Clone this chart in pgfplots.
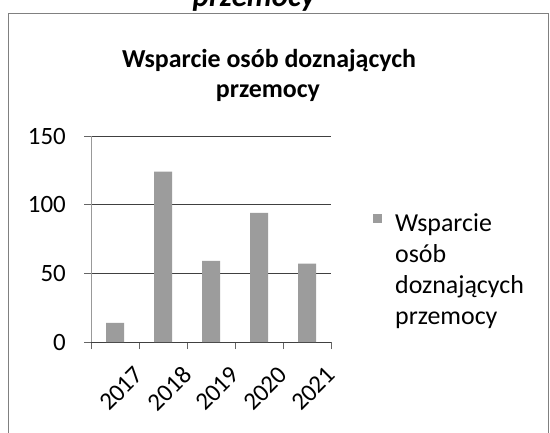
\documentclass[border=0pt]{standalone}
\usepackage{pgfplots}
\pgfplotsset{compat=1.18}
\usepackage{fontspec}
\setmainfont{Carlito}
\definecolor{barc}{HTML}{9C9C9C}
\definecolor{gridc}{HTML}{404040}
\newcommand{\tf}{\fontsize{25}{30}\selectfont}
\begin{document}
\begin{tikzpicture}[x=1bp,y=1bp]
\useasboundingbox (0,0) rectangle (550,-432);
\fill[white] (0,0) rectangle (550,-432);
\draw[draw=black!50, line width=1bp] (8,-460) -- (8,-13) -- (548,-13) -- (548,-460);
\node[font=\fontsize{31}{36}\selectfont\bfseries\itshape, anchor=base, inner sep=0pt] at (254,-6) {przemocy};
\node[font=\fontsize{26}{30}\selectfont\bfseries, anchor=base, inner sep=0pt] at (269,-67) {Wsparcie osób doznających};
\node[font=\fontsize{26}{30}\selectfont\bfseries, anchor=base, inner sep=0pt] at (268,-97) {przemocy};
\begin{axis}[
  at={(91bp,-342bp)}, anchor=south west,
  scale only axis, width=240bp, height=206bp,
  xmin=-0.5, xmax=4.5, ymin=0, ymax=150,
  ybar, bar width=18bp,
  axis lines*=left,
  x axis line style={draw=gridc, line width=1bp},
  y axis line style={draw=black!40, line width=1bp},
  xtick={-0.5,0.5,1.5,2.5,3.5,4.5},
  x tick label as interval,
  xticklabels={{\tf 2017},{\tf 2018},{\tf 2019},{\tf 2020},{\tf 2021}},
  ytick={0,50,100,150},
  yticklabels={{\tf 0},{\tf 50},{\tf 100},{\tf 150}},
  tick align=outside, major tick length=7bp,
  tick style={draw=black!60, line width=0.8bp},
  ymajorgrids, grid style={draw=gridc, line width=1bp},
  tick label style={font=\tf},
  xticklabel style={rotate=45, anchor=north east, inner sep=0pt, yshift=-24bp, xshift=2bp},
  yticklabel style={anchor=east, inner sep=0pt, xshift=-18bp},
  legend style={at={(1.175,0.624)}, anchor=north west, draw=none, fill=none, inner sep=0pt,
     nodes={inner sep=0pt}, font=\fontsize{26}{31}\selectfont},
  legend image code/.code={\fill[barc] (0bp,1bp) rectangle (9bp,10bp);},
]
\addplot[fill=barc, draw=none] coordinates {(0,14) (1,124) (2,59) (3,94) (4,57)};
\addlegendentry{\hspace{13bp}\parbox[t]{150bp}{\fontsize{26}{31}\selectfont Wsparcie\\osób\\doznających\\przemocy}}
\end{axis}
\end{tikzpicture}
\end{document}
